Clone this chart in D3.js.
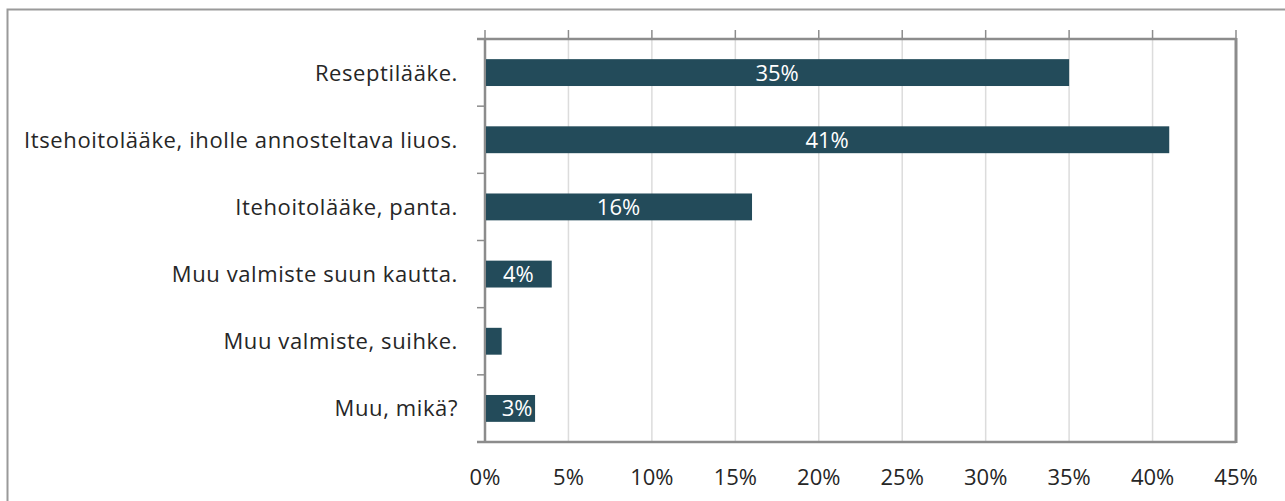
<!DOCTYPE html>
<html>
<head>
<meta charset="utf-8">
<script src="https://cdn.jsdelivr.net/npm/d3@7"></script>
<style>
  html, body { margin: 0; padding: 0; background: #fff; }
  svg { display: block; font-family: "Open Sans", sans-serif; }
</style>
</head>
<body>
<svg width="1285" height="501"></svg>
<script>
var categories = [
    'Reseptilääke.',
    'Itsehoitolääke, iholle annosteltava liuos.',
    'Itehoitolääke, panta.',
    'Muu valmiste suun kautta.',
    'Muu valmiste, suihke.',
    'Muu, mikä?'
];
var values = [35, 41, 16, 4, 1, 3];
var barLabels = ['35%', '41%', '16%', '4%', '', '3%'];
var xTicks = [0, 5, 10, 15, 20, 25, 30, 35, 40, 45];

(function () {
    var svg = d3.select('svg');
    var plotLeft = 485, plotRight = 1236, plotTop = 39, plotBottom = 442;

    // outer frame (only left and top edges are in view)
    svg.append('path')
        .attr('d', 'M7.5,501 V9.5 H1285')
        .attr('fill', 'none')
        .attr('stroke', '#9a9a9a')
        .attr('stroke-width', 2);

    var x = d3.scaleLinear()
        .domain([0, 45])
        .range([plotLeft, plotRight]);

    var y = d3.scaleBand()
        .domain(categories)
        .range([plotTop, plotBottom])
        .paddingInner(0.6)
        .paddingOuter(0.3);

    // gridlines
    svg.append('g')
        .selectAll('line')
        .data(xTicks.slice(1, -1))
        .enter()
        .append('line')
            .attr('x1', function (d) { return x(d); })
            .attr('x2', function (d) { return x(d); })
            .attr('y1', plotTop)
            .attr('y2', plotBottom)
            .attr('stroke', '#dcdcdc')
            .attr('stroke-width', 1.5)
    ;

    // tick marks above the plot
    svg.append('g')
        .selectAll('line')
        .data(xTicks)
        .enter()
        .append('line')
            .attr('x1', function (d) { return x(d); })
            .attr('x2', function (d) { return x(d); })
            .attr('y1', plotTop - 9)
            .attr('y2', plotTop)
            .attr('stroke', '#8c8c8c')
            .attr('stroke-width', 1.5)
    ;

    // category ticks at band boundaries
    var step = (plotBottom - plotTop) / categories.length;
    svg.append('g')
        .selectAll('line')
        .data(d3.range(categories.length + 1))
        .enter()
        .append('line')
            .attr('x1', plotLeft - 8)
            .attr('x2', plotLeft)
            .attr('y1', function (i) { return plotTop + i * step; })
            .attr('y2', function (i) { return plotTop + i * step; })
            .attr('stroke', '#8c8c8c')
            .attr('stroke-width', 1.5)
    ;

    // plot frame
    svg.append('line')
        .attr('x1', plotLeft - 8).attr('x2', plotRight)
        .attr('y1', plotTop).attr('y2', plotTop)
        .attr('stroke', '#8c8c8c').attr('stroke-width', 2.5);
    svg.append('line')
        .attr('x1', plotLeft - 8).attr('x2', plotRight)
        .attr('y1', plotBottom).attr('y2', plotBottom)
        .attr('stroke', '#8c8c8c').attr('stroke-width', 2.5);
    svg.append('line')
        .attr('x1', plotLeft).attr('x2', plotLeft)
        .attr('y1', plotTop).attr('y2', plotBottom)
        .attr('stroke', '#8c8c8c').attr('stroke-width', 2.5);
    svg.append('line')
        .attr('x1', plotRight).attr('x2', plotRight)
        .attr('y1', plotTop - 1).attr('y2', plotBottom + 1)
        .attr('stroke', '#8c8c8c').attr('stroke-width', 3);

    // bars
    var bars = svg.append('g')
        .selectAll('g')
        .data(values)
        .enter()
        .append('g')
    ;

    bars.append('rect')
        .attr('x', x(0) + 1)
        .attr('y', function (d, i) { return y(categories[i]); })
        .attr('width', function (d) { return x(d) - x(0) - 1; })
        .attr('height', y.bandwidth())
        .attr('fill', '#234b5a')
    ;

    // small bars: label pushed right a bit, like the original
    bars.append('text')
        .attr('x', function (d) { return (x(0) + x(d)) / 2 + (d < 4 ? 7 : 0); })
        .attr('y', function (d, i) { return y(categories[i]) + y.bandwidth() / 2; })
        .attr('dy', '0.36em')
        .attr('text-anchor', 'middle')
        .attr('fill', '#ffffff')
        .style('font-size', '22px')
        .text(function (d, i) { return barLabels[i]; })
    ;

    // category labels
    svg.append('g')
        .selectAll('text')
        .data(categories)
        .enter()
        .append('text')
            .attr('x', plotLeft - 27)
            .attr('y', function (d) { return y(d) + y.bandwidth() / 2; })
            .attr('dy', '0.36em')
            .attr('text-anchor', 'end')
            .attr('fill', '#262626')
            .style('font-size', '22px')
            .style('letter-spacing', '0.6px')
            .text(function (d) { return d; })
    ;

    // x tick labels
    svg.append('g')
        .selectAll('text')
        .data(xTicks)
        .enter()
        .append('text')
            .attr('x', function (d) { return x(d); })
            .attr('y', 485)
            .attr('text-anchor', 'middle')
            .attr('fill', '#262626')
            .style('font-size', '22px')
            .text(function (d) { return d + '%'; })
    ;
})();
</script>
</body>
</html>
